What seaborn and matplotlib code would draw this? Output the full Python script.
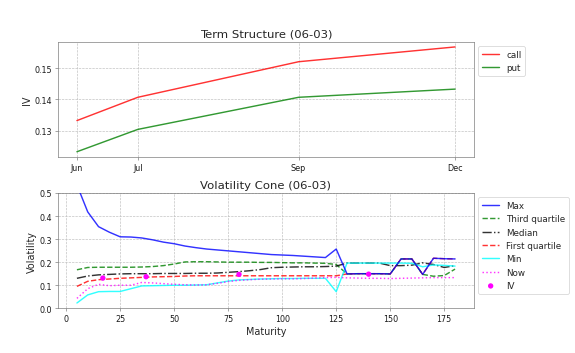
import pandas as pd
import matplotlib
matplotlib.use("Agg")
import matplotlib.pyplot as plt
from matplotlib.ticker import MultipleLocator
import seaborn as sns

# term structure (days to expiry, labelled by month)
ts_days = [17, 45, 119, 191]
ts_labels = ["Jun", "Jul", "Sep", "Dec"]
call_iv = [0.1333, 0.1407, 0.1520, 0.1567]
put_iv = [0.1234, 0.1305, 0.1407, 0.1433]

# volatility cone
maturity = list(range(5, 185, 5))
cone_max = [0.535, 0.418, 0.354, 0.330, 0.310, 0.309, 0.305, 0.297, 0.287, 0.280,
            0.270, 0.263, 0.257, 0.253, 0.249, 0.245, 0.241, 0.237, 0.233, 0.231,
            0.229, 0.226, 0.223, 0.220, 0.257, 0.149, 0.150, 0.150, 0.150, 0.149,
            0.214, 0.214, 0.147, 0.217, 0.215, 0.214]
cone_q3 = [0.167, 0.177, 0.178, 0.178, 0.178, 0.178, 0.179, 0.181, 0.185, 0.192,
           0.201, 0.202, 0.202, 0.201, 0.200, 0.200, 0.200, 0.199, 0.199, 0.198,
           0.197, 0.197, 0.196, 0.195, 0.190, 0.149, 0.150, 0.150, 0.150, 0.149,
           0.214, 0.214, 0.147, 0.139, 0.142, 0.170]
cone_med = [0.130, 0.140, 0.145, 0.147, 0.149, 0.150, 0.150, 0.150, 0.151, 0.151,
            0.151, 0.152, 0.152, 0.153, 0.156, 0.159, 0.163, 0.168, 0.176, 0.178,
            0.179, 0.180, 0.180, 0.181, 0.183, 0.196, 0.196, 0.196, 0.196, 0.185,
            0.185, 0.187, 0.197, 0.190, 0.177, 0.185]
cone_q1 = [0.095, 0.117, 0.124, 0.127, 0.130, 0.132, 0.134, 0.136, 0.137, 0.138,
           0.140, 0.141, 0.141, 0.141, 0.141, 0.141, 0.141, 0.141, 0.141, 0.141,
           0.141, 0.141, 0.141, 0.141, 0.141, 0.149, 0.150, 0.150, 0.150, 0.149,
           0.214, 0.214, 0.147, 0.217, 0.215, 0.214]
cone_min = [0.023, 0.058, 0.072, 0.073, 0.073, 0.085, 0.097, 0.098, 0.099, 0.100,
            0.100, 0.101, 0.102, 0.110, 0.118, 0.123, 0.125, 0.127, 0.128, 0.129,
            0.129, 0.130, 0.130, 0.130, 0.072, 0.196, 0.196, 0.196, 0.196, 0.196,
            0.196, 0.195, 0.180, 0.188, 0.186, 0.183]
cone_now = [0.043, 0.085, 0.104, 0.098, 0.100, 0.100, 0.112, 0.110, 0.107, 0.104,
            0.102, 0.101, 0.102, 0.108, 0.116, 0.121, 0.124, 0.126, 0.127, 0.128,
            0.128, 0.129, 0.131, 0.133, 0.134, 0.132, 0.131, 0.130, 0.130, 0.129,
            0.130, 0.131, 0.132, 0.133, 0.133, 0.133]
iv_maturity = [17, 37, 80, 140]
iv_value = [0.131, 0.137, 0.147, 0.148]

sns.set_style("white", {
    "axes.edgecolor": "0.45",
    "axes.grid": True,
    "grid.color": "0.75",
    "grid.linestyle": "--",
    "xtick.bottom": True,
    "ytick.left": True,
})
plt.rcParams["xtick.color"] = "0.45"
plt.rcParams["ytick.color"] = "0.45"
plt.rcParams["xtick.labelcolor"] = "0.1"
plt.rcParams["ytick.labelcolor"] = "0.1"
plt.rcParams["font.family"] = ["DejaVu Sans"]

df_ts = pd.DataFrame({"days": ts_days, "call": call_iv, "put": put_iv})
df_cone = pd.DataFrame({"Maturity": maturity, "Max": cone_max, "Third quartile": cone_q3,
                        "Median": cone_med, "First quartile": cone_q1,
                        "Min": cone_min, "Now": cone_now})
df_iv = pd.DataFrame({"Maturity": iv_maturity, "IV": iv_value})

fig = plt.figure(figsize=(10, 6.1565), dpi=57.5)
ax1 = fig.add_axes([0.1009, 0.5537, 0.7234, 0.3257])
ax2 = fig.add_axes([0.1009, 0.1263, 0.7234, 0.3257])

sns.lineplot(data=df_ts, x="days", y="call", color="red", alpha=0.8, lw=1.8, label="call", ax=ax1)
sns.lineplot(data=df_ts, x="days", y="put", color="green", alpha=0.8, lw=1.8, label="put", ax=ax1)
ax1.set_xticks(ts_days)
ax1.set_xticklabels(ts_labels)
ax1.yaxis.set_major_locator(MultipleLocator(0.01))
ax1.set_xlabel("")
ax1.set_ylabel("IV", fontsize=12)
ax1.set_title("Term Structure (06-03)", fontsize=14.5)
ax1.tick_params(labelsize=10)
ax1.legend(loc="upper left", bbox_to_anchor=(1.0, 1.0), fontsize=11)

styles = [
    ("Max", "blue", "-", 3),
    ("Third quartile", "green", "--", 2),
    ("Median", "black", "-.", 2),
    ("First quartile", "red", "--", 2),
    ("Min", "cyan", "-", 2),
    ("Now", "magenta", ":", 2),
]
for name, col, ls, z in styles:
    sns.lineplot(data=df_cone, x="Maturity", y=name, color=col, linestyle=ls,
                 alpha=0.8, lw=1.8, label=name, zorder=z, ax=ax2)
sns.scatterplot(data=df_iv, x="Maturity", y="IV", color="magenta", s=45,
                edgecolor="none", label="IV", zorder=4, ax=ax2)
ax2.set_ylim(0, 0.5)
ax2.set_ylabel("Volatility", fontsize=12)
ax2.set_xlabel("Maturity", fontsize=12)
ax2.set_title("Volatility Cone (06-03)", fontsize=14.5)
ax2.tick_params(labelsize=10)
ax2.legend(loc="upper left", bbox_to_anchor=(1.0, 1.0), fontsize=11)

fig.savefig("out.png", dpi=57.5)
